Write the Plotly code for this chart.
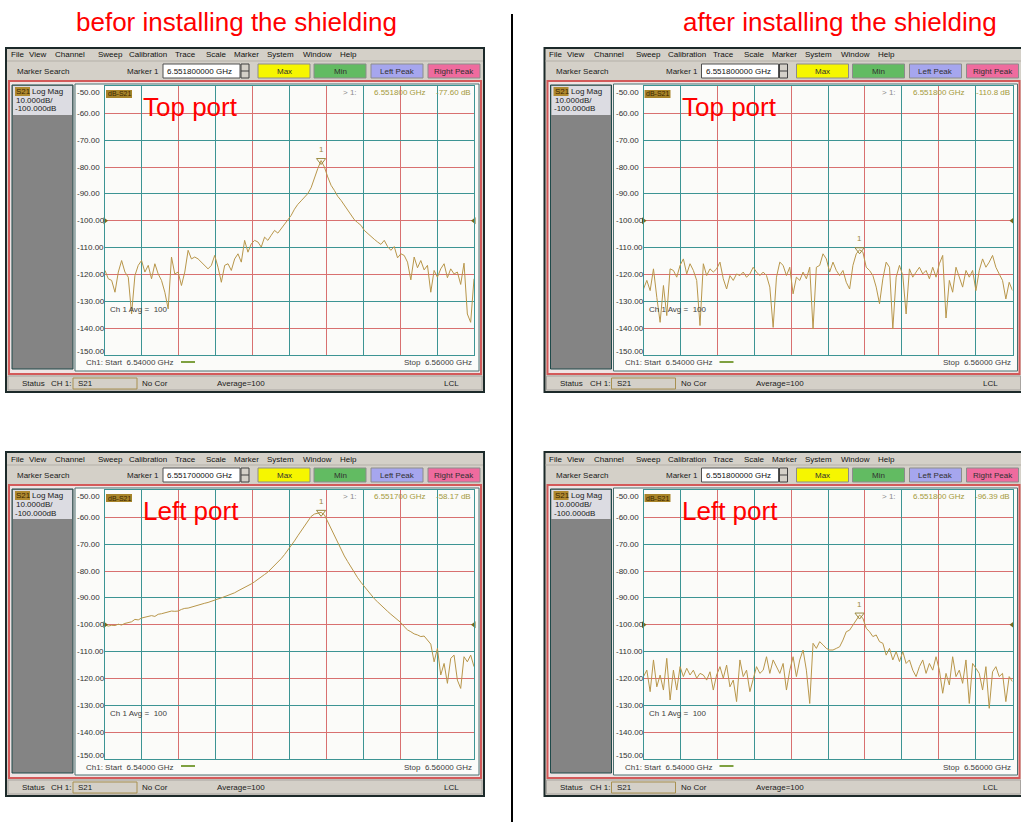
import numpy as np
import plotly.graph_objects as go

W, H = 1021, 825
FONT = "Liberation Sans, Arial, sans-serif"

# ---------------- data ----------------
START_GHZ = 6.54
STOP_GHZ = 6.56
DB_TOP = -50
DB_BOTTOM = -150
REF_LEVEL_DB = -100
Y_TICK_VALUES = [-50, -60, -70, -80, -90, -100, -110, -120, -130, -140, -150]
Y_TICK_TEXT = ["-50.00", "-60.00", "-70.00", "-80.00", "-90.00", "-100.00",
               "-110.00", "-120.00", "-130.00", "-140.00", "-150.00"]

COLUMN_TITLES = ["befor installing the shielding", "after installing the shielding"]
PORT_LABELS = ["Top port", "Left port"]

MENU_ITEMS = ["File", "View", "Channel", "Sweep", "Calibration", "Trace",
              "Scale", "Marker", "System", "Window", "Help"]
BUTTON_LABELS = ["Max", "Min", "Left Peak", "Right Peak"]

# S21 (dB), sweep 6.54 -> 6.56 GHz
before_top_db = [
    -118.5, -121.6, -122.2, -126.6, -119.1, -114.8, -119.1, -121.0, -134.7, -120.4,
    -116.6, -114.8, -119.1, -116.6, -121.6, -116.0, -119.8, -122.2, -126.6, -132.8,
    -113.5, -119.8, -119.1, -124.1, -119.1, -111.0, -114.2, -113.5, -114.2, -115.4,
    -116.6, -117.9, -116.6, -112.9, -117.3, -122.9, -116.6, -116.0, -118.5, -114.2,
    -112.3, -115.4, -107.3, -111.7, -108.6, -107.3, -107.9, -109.8, -106.1, -107.3,
    -105.4, -103.6, -104.6, -103.0, -101.3, -99.9, -98.0, -95.7, -93.9, -92.6,
    -91.4, -89.9, -87.7, -83.9, -80.6, -77.6, -80.0, -83.7, -86.8, -88.7,
    -90.9, -92.4, -94.3, -95.7, -97.6, -99.6, -100.7, -101.7, -103.6, -104.8,
    -105.7, -106.9, -107.9, -108.8, -107.3, -109.6, -111.0, -109.6, -113.8, -112.3,
    -112.9, -115.4, -122.0, -113.5, -117.5, -114.8, -118.3, -116.6, -126.6, -118.5,
    -121.0, -117.9, -116.0, -121.2, -117.9, -119.8, -119.1, -123.7, -115.8, -134.7,
    -137.8, -121.6]

after_top_db = [
    -125.4, -122.2, -126.0, -117.9, -128.5, -137.8, -124.1, -135.3, -117.9, -118.5,
    -121.0, -116.6, -114.2, -119.8, -116.0, -118.5, -122.2, -139.0, -116.0, -120.4,
    -117.9, -119.1, -117.9, -115.4, -121.6, -125.4, -120.4, -122.2, -119.8, -120.4,
    -119.1, -121.0, -119.8, -117.3, -119.1, -120.4, -119.1, -120.4, -124.7, -139.7,
    -121.0, -115.4, -116.6, -120.4, -117.3, -127.2, -121.0, -122.2, -119.1, -121.6,
    -117.3, -140.3, -117.3, -116.6, -112.3, -114.2, -119.1, -115.4, -118.5, -120.4,
    -118.5, -122.9, -125.4, -116.6, -112.3, -110.8, -111.7, -117.3, -118.5, -120.4,
    -124.7, -130.9, -121.6, -115.4, -117.3, -140.3, -121.0, -116.6, -120.4, -134.7,
    -117.9, -121.0, -119.1, -117.3, -119.8, -118.5, -121.6, -117.3, -121.0, -116.0,
    -112.9, -136.2, -122.2, -126.6, -117.3, -121.0, -124.7, -118.5, -121.0, -118.5,
    -126.0, -118.5, -114.2, -117.3, -115.4, -112.9, -117.3, -119.8, -122.2, -129.1,
    -122.9, -126.0]

before_left_db = [
    -100.1, -100.5, -100.2, -100.3, -99.8, -100.1, -99.5, -99.2, -98.9, -98.0,
    -98.2, -97.5, -97.2, -97.0, -96.6, -96.9, -96.1, -95.9, -95.6, -95.2,
    -94.9, -95.0, -94.9, -94.3, -93.9, -93.8, -93.4, -93.0, -92.8, -92.4,
    -92.0, -91.7, -91.2, -90.8, -90.4, -90.0, -89.5, -89.2, -88.5, -88.1,
    -87.4, -86.8, -86.2, -85.6, -84.8, -84.0, -83.2, -82.3, -81.3, -80.4,
    -79.2, -78.0, -76.8, -75.4, -73.9, -72.3, -70.5, -68.8, -66.9, -65.1,
    -63.1, -61.2, -59.7, -58.8, -58.6, -58.17, -59.1, -61.6, -64.5, -67.2,
    -69.7, -72.2, -74.4, -76.5, -78.6, -80.6, -82.5, -84.2, -85.8, -87.4,
    -88.9, -90.3, -91.5, -92.8, -93.9, -95.0, -96.1, -97.2, -98.2, -99.2,
    -100.7, -101.9, -102.6, -103.4, -103.8, -104.4, -104.2, -105.7, -107.2, -113.8,
    -108.8, -118.7, -114.4, -121.8, -112.5, -111.3, -120.6, -123.7, -111.9, -113.8,
    -111.3, -115.6]

after_left_db = [
    -119.3, -116.9, -124.9, -113.1, -123.1, -118.7, -124.3, -112.5, -128.0, -116.9,
    -124.3, -115.6, -119.3, -116.2, -118.7, -116.9, -119.9, -118.1, -118.7, -120.6,
    -117.5, -124.3, -118.7, -115.6, -119.9, -115.0, -123.1, -120.6, -128.6, -113.1,
    -119.3, -116.9, -124.9, -119.9, -115.6, -118.1, -116.9, -111.9, -118.1, -113.1,
    -115.6, -118.1, -114.4, -124.3, -116.9, -111.9, -119.3, -113.1, -109.4, -116.9,
    -129.3, -106.9, -108.8, -106.3, -107.5, -108.8, -109.4, -109.4, -108.8, -108.2,
    -105.7, -102.6, -102.0, -100.1, -98.2, -96.39, -97.6, -101.3, -102.6, -104.4,
    -103.8, -106.3, -106.9, -111.3, -108.8, -113.1, -110.0, -113.7, -110.0, -114.4,
    -113.1, -116.9, -119.3, -115.6, -113.1, -118.1, -114.4, -116.9, -111.9, -116.9,
    -125.5, -118.1, -122.4, -111.9, -119.3, -116.9, -121.8, -113.1, -129.3, -114.4,
    -116.2, -118.1, -124.3, -115.6, -131.1, -117.5, -115.6, -119.3, -118.1, -128.6,
    -119.3, -121.2]

MARKER_BOX_TEXT = ["6.551800000 GHz", "6.551800000 GHz", "6.551700000 GHz", "6.551800000 GHz"]
MARKER_FREQ_TEXT = ["6.551800 GHz", "6.551800 GHz", "6.551700 GHz", "6.551800 GHz"]
MARKER_DB_TEXT = ["-77.60 dB", "-110.8 dB", "-58.17 dB", "-96.39 dB"]
AVG_TEXT = "Ch 1 Avg =  100"
START_TEXT = "Ch1: Start  6.54000 GHz"
STOP_TEXT = "Stop  6.56000 GHz"

# ---------------- styles / layout ----------------
TRACE_COLOR = "#b8964a"
GRID_TEAL = "#3c9494"
GRID_RED = "#d87070"
MENU_X = [17, 37, 70, 110, 148, 185, 216, 246, 280, 317, 348]
BUTTON_X = [(258, 310), (314, 366), (371, 423), (428, 480)]
BUTTON_FILL = ["#f6f600", "#62bb62", "#a6a6ee", "#ef6b9e"]

PANELS = [
    dict(dx=0.0, dy=0.0, data=before_top_db, port=PORT_LABELS[0]),
    dict(dx=538.5, dy=0.0, data=after_top_db, port=PORT_LABELS[0]),
    dict(dx=0.0, dy=404.0, data=before_left_db, port=PORT_LABELS[1]),
    dict(dx=538.5, dy=404.0, data=after_left_db, port=PORT_LABELS[1]),
]

shapes, annots = [], []


def add_rect(x0, y0, x1, y1, fill, line=None, lw=1):
    shapes.append(dict(type="rect", xref="paper", yref="paper",
                       x0=x0 / W, x1=x1 / W, y0=1 - y1 / H, y1=1 - y0 / H,
                       fillcolor=fill,
                       line=dict(color=line if line else fill, width=lw if line else 0),
                       layer="below"))


def add_line(x0, y0, x1, y1, color, width=1, layer="below"):
    shapes.append(dict(type="line", xref="paper", yref="paper",
                       x0=x0 / W, x1=x1 / W, y0=1 - y0 / H, y1=1 - y1 / H,
                       line=dict(color=color, width=width), layer=layer))


def add_text(x, y, s, size=8, color="#1a1a1a", anchor="left"):
    annots.append(dict(xref="paper", yref="paper", x=x / W, y=1 - y / H, text=s,
                       showarrow=False, xanchor=anchor, yanchor="middle",
                       font=dict(family=FONT, size=size, color=color), borderpad=0))


fig = go.Figure()
layout_axes = {}

for i, p in enumerate(PANELS):
    dx, dy = p["dx"], p["dy"]
    n = i + 1
    xs = "" if n == 1 else str(n)

    def X(v):
        return v + dx

    def Y(v):
        return v + dy

    # window
    add_rect(X(6), Y(48), X(484), Y(392), "#d4d0c8", "#1c2a2a", 2)
    add_line(X(7), Y(61), X(483), Y(61), "#b4b0a8")
    for item, mx in zip(MENU_ITEMS, MENU_X):
        add_text(X(mx), Y(55), item, 8, "#101010", "center")
    add_text(X(43), Y(71), "Marker Search", 8, "#202020", "center")
    add_text(X(160), Y(71), "Marker 1", 8, "#202020", "right")
    add_rect(X(163), Y(64), X(240), Y(78), "#ffffff", "#505050", 1)
    add_text(X(166), Y(71), MARKER_BOX_TEXT[i], 8, "#101010", "left")
    add_rect(X(241), Y(64), X(249), Y(78), "#d4d0c8", "#404040", 1)
    add_line(X(241), Y(71), X(249), Y(71), "#404040")
    for (bx0, bx1), lab, col in zip(BUTTON_X, BUTTON_LABELS, BUTTON_FILL):
        add_rect(X(bx0), Y(64), X(bx1), Y(78), col, "#8c8c8c", 1)
        add_text(X((bx0 + bx1) / 2), Y(71), lab, 8, "#303030", "center")

    # chart frame
    add_rect(X(9), Y(81), X(481), Y(374), "#efe4e4", "#d35a5a", 2)
    add_rect(X(75), Y(84), X(479), Y(371), "#fbfbf9", "#4a7070", 1)
    # side bar
    add_rect(X(12), Y(85), X(73), Y(369), "#848484", "#1f4a4a", 1)
    add_rect(X(13), Y(86), X(72), Y(115), "#dcdce2")
    add_rect(X(15), Y(87), X(30), Y(96), "#b08a30")
    add_text(X(15), Y(91.5), "S21", 8, "#3a2400", "left")
    add_text(X(31), Y(91.5), "Log Mag", 8, "#202020", "left")
    add_text(X(15), Y(100.5), "10.000dB/", 8, "#202020", "left")
    add_text(X(14), Y(109), "-100.000dB", 8, "#202020", "left")

    # y labels
    for v, t in zip(Y_TICK_VALUES, Y_TICK_TEXT):
        py = 86.4 + (DB_TOP - v) / (DB_TOP - DB_BOTTOM) * (355.1 - 86.4)
        if v == DB_TOP:
            py = 92
        if v == DB_BOTTOM:
            py = 351
        add_text(X(76), Y(py), t, 8, "#303030", "left")

    # top row items
    add_rect(X(106), Y(90), X(132), Y(98), "#a8842a")
    add_text(X(119), Y(94), "dB-S21", 7, "#3a2600", "center")
    add_text(X(350), Y(92.5), "&gt; 1:", 8, "#8c8c8c", "center")
    add_text(X(400), Y(92.5), MARKER_FREQ_TEXT[i], 8, "#a49a3c", "center")
    add_text(X(472), Y(92.5), MARKER_DB_TEXT[i], 8, "#a49a3c", "right")

    # port label
    add_text(X(142), Y(107), p["port"], 26, "#ff0000", "left")
    add_text(X(109), Y(309), AVG_TEXT, 8, "#404040", "left")

    # bottom line
    add_text(X(85), Y(363), START_TEXT, 8, "#404040", "left")
    add_line(X(181), Y(362), X(195), Y(362), "#7ea040", 2)
    add_text(X(473), Y(363), STOP_TEXT, 8, "#404040", "right")

    # status bar
    add_rect(X(8), Y(376), X(482), Y(390), "#d4d0c8", "#a8a4a0", 1)
    add_text(X(33), Y(383.5), "Status", 8, "#202020", "center")
    add_text(X(50), Y(383.5), "CH 1:", 8, "#202020", "left")
    add_rect(X(73), Y(378), X(137), Y(389), "#d4d0c8", "#a89050", 1)
    add_text(X(77), Y(383.5), "S21", 8, "#202020", "left")
    add_text(X(141), Y(383.5), "No Cor", 8, "#202020", "left")
    add_text(X(216), Y(383.5), "Average=100", 8, "#202020", "left")
    add_text(X(443), Y(383.5), "LCL", 8, "#202020", "left")

    # axes: teal major grid, red minor grid in between
    layout_axes["xaxis" + xs] = dict(
        domain=[X(105) / W, X(474) / W], range=[START_GHZ, STOP_GHZ],
        tick0=6.542, dtick=0.004, showgrid=True, gridcolor=GRID_TEAL, gridwidth=1,
        minor=dict(tick0=START_GHZ, dtick=0.002, showgrid=True, gridcolor=GRID_RED,
                   gridwidth=1, ticks=""),
        showticklabels=False, ticks="", zeroline=False, showline=True,
        linecolor=GRID_TEAL, linewidth=1, mirror=True, anchor="y" + xs, fixedrange=True)
    layout_axes["yaxis" + xs] = dict(
        domain=[1 - Y(355.1) / H, 1 - Y(86.4) / H], range=[DB_BOTTOM, DB_TOP],
        tick0=DB_BOTTOM, dtick=20, showgrid=True, gridcolor=GRID_TEAL, gridwidth=1,
        minor=dict(tick0=DB_BOTTOM, dtick=10, showgrid=True, gridcolor=GRID_RED,
                   gridwidth=1, ticks=""),
        showticklabels=False, ticks="", zeroline=False, showline=True,
        linecolor=GRID_TEAL, linewidth=1, mirror=True, anchor="x" + xs, fixedrange=True)

    vals = np.array(p["data"])
    freqs = np.linspace(START_GHZ, STOP_GHZ, len(vals))
    fig.add_trace(go.Scatter(x=freqs, y=vals, mode="lines",
                             line=dict(color=TRACE_COLOR, width=1),
                             xaxis="x" + xs, yaxis="y" + xs,
                             hoverinfo="skip", showlegend=False))
    k = int(np.argmax(vals))
    fig.add_trace(go.Scatter(x=[freqs[k]], y=[vals[k]], mode="markers",
                             marker=dict(symbol="triangle-down-open", size=8,
                                         color="#9a8a40", line=dict(width=1, color="#9a8a40")),
                             xaxis="x" + xs, yaxis="y" + xs,
                             hoverinfo="skip", showlegend=False, cliponaxis=False))
    annots.append(dict(xref="x" + xs, yref="y" + xs, x=freqs[k], y=vals[k], yshift=11,
                       text="1", showarrow=False,
                       font=dict(family=FONT, size=8, color="#9a8a40")))
    fig.add_trace(go.Scatter(x=[START_GHZ, STOP_GHZ], y=[REF_LEVEL_DB, REF_LEVEL_DB],
                             mode="markers",
                             marker=dict(symbol=["triangle-right", "triangle-left"], size=6,
                                         color="#7a6a1a"),
                             xaxis="x" + xs, yaxis="y" + xs,
                             hoverinfo="skip", showlegend=False, cliponaxis=False))

# column titles and divider
add_text(236, 22, COLUMN_TITLES[0], 26, "#ff0000", "center")
add_text(840, 22, COLUMN_TITLES[1], 26, "#ff0000", "center")
add_line(512, 14, 512, 822, "#000000", 2, layer="above")

fig.update_layout(
    width=W, height=H, autosize=False,
    margin=dict(l=0, r=0, t=0, b=0),
    paper_bgcolor="#ffffff", plot_bgcolor="rgba(0,0,0,0)",
    shapes=shapes, annotations=annots, showlegend=False,
    **layout_axes)

fig.write_html("out.html", config={"displayModeBar": False},
               post_script="document.body.style.margin='0px';document.body.style.overflow='hidden';")
